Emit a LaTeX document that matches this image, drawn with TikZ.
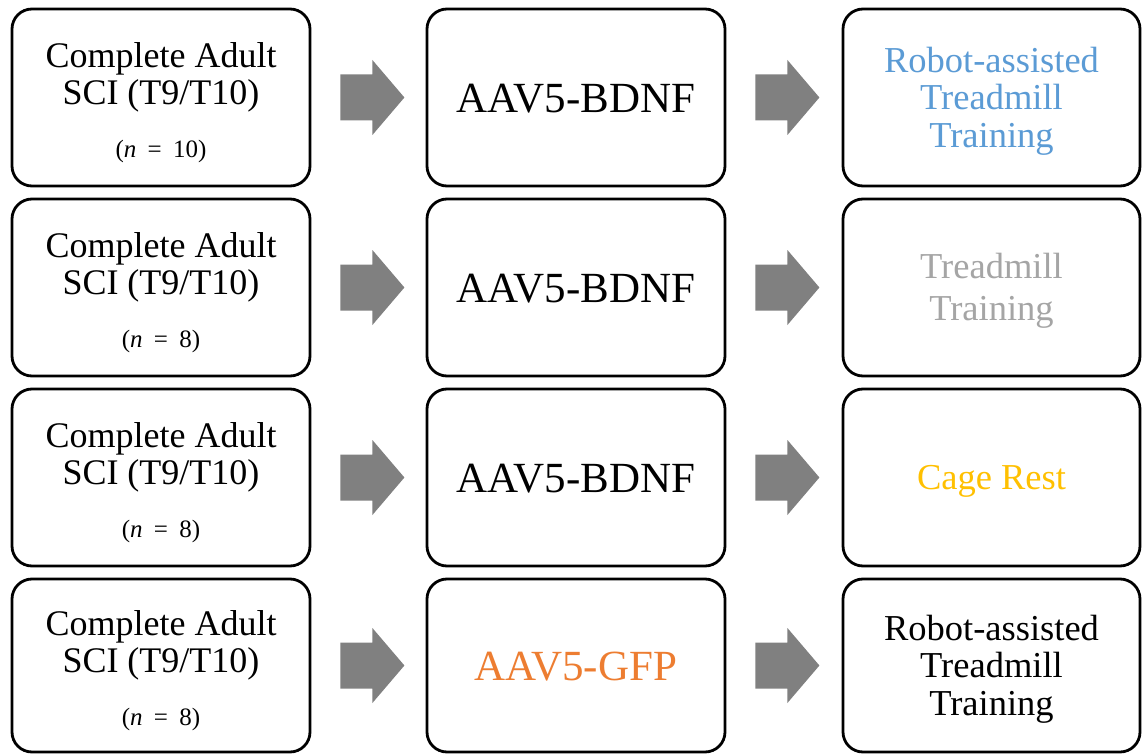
\documentclass[tikz,border=0pt]{standalone}
\usepackage{fontspec}
\setmainfont{Liberation Serif}
\usetikzlibrary{calc}
\definecolor{cblue}{HTML}{5B9BD5}
\definecolor{cgray}{HTML}{A5A5A5}
\definecolor{cyellow}{HTML}{FFC000}
\definecolor{corange}{HTML}{ED7D31}
\definecolor{arrowgray}{HTML}{808080}
\tikzset{
  box/.style={draw=black, line width=2.8pt, rounded corners=20pt, fill=white,
    minimum width=298pt, minimum height=177pt, inner sep=0pt},
  lastrow/.style={minimum height=173pt},
  lbl/.style={align=center, inner sep=0pt},
  subjtext/.style={lbl, font=\fontsize{36}{37}\selectfont, yshift=-5pt},
  vectext/.style={lbl, font=\fontsize{43}{44}\selectfont, yshift=-1pt},
  treattext/.style={lbl, font=\fontsize{36.5}{37.5}\selectfont, yshift=-3.5pt},
  blockarrow/.style={fill=arrowgray, draw=none}
}
\newcommand{\barrow}[1]{%
  \fill[blockarrow] ($(#1.east)+(29,23)$) -- ($(#1.east)+(61,23)$) -- ($(#1.east)+(61,37.5)$)
    -- ($(#1.east)+(93,0)$) -- ($(#1.east)+(61,-37.5)$) -- ($(#1.east)+(61,-23)$)
    -- ($(#1.east)+(29,-23)$) -- cycle;}
\newcommand{\subj}[1]{Complete Adult\\SCI (T9/T10)\\[16pt]{\fontsize{25}{37}\selectfont (\textit{n}\hspace{0.45em}=\hspace{0.45em}#1)}}
\begin{document}
\begin{tikzpicture}[x=1pt,y=1pt]
\useasboundingbox[fill=white] (0,0) rectangle (1143,-754);
% boxes
\node[box] (s1) at (161,-97.5) {};
\node[box] (v1) at (576,-97.5) {};
\node[box, minimum width=297pt] (t1) at (991.5,-97.5) {};
\node[box] (s2) at (161,-287.5) {};
\node[box] (v2) at (576,-287.5) {};
\node[box, minimum width=297pt] (t2) at (991.5,-287.5) {};
\node[box] (s3) at (161,-477.5) {};
\node[box] (v3) at (576,-477.5) {};
\node[box, minimum width=297pt] (t3) at (991.5,-477.5) {};
\node[box, lastrow] (s4) at (161,-665.5) {};
\node[box, lastrow] (v4) at (576,-665.5) {};
\node[box, lastrow, minimum width=297pt] (t4) at (991.5,-665.5) {};
% texts
\node[subjtext] (s1t) at (s1.center) {\subj{10}};
\node[subjtext] (s2t) at (s2.center) {\subj{8}};
\node[subjtext] (s3t) at (s3.center) {\subj{8}};
\node[subjtext] (s4t) at (s4.center) {\subj{8}};
\node[vectext] (v1t) at (v1.center) {AAV5-BDNF};
\node[vectext] (v2t) at (v2.center) {AAV5-BDNF};
\node[vectext] (v3t) at (v3.center) {AAV5-BDNF};
\node[vectext, text=corange] (v4t) at (v4.center) {AAV5-GFP};
\node[treattext, text=cblue] (t1t) at (t1.center) {Robot-assisted\\Treadmill\\Training};
\node[treattext, font=\fontsize{36.5}{42}\selectfont, text=cgray] (t2t) at (t2.center) {Treadmill\\Training};
\node[treattext, text=cyellow] (t3t) at (t3.center) {Cage Rest};
\node[treattext] (t4t) at (t4.center) {Robot-assisted\\Treadmill\\Training};
% arrows
\foreach \n in {s1,v1,s2,v2,s3,v3,s4,v4} {\barrow{\n}}
\end{tikzpicture}
\end{document}
